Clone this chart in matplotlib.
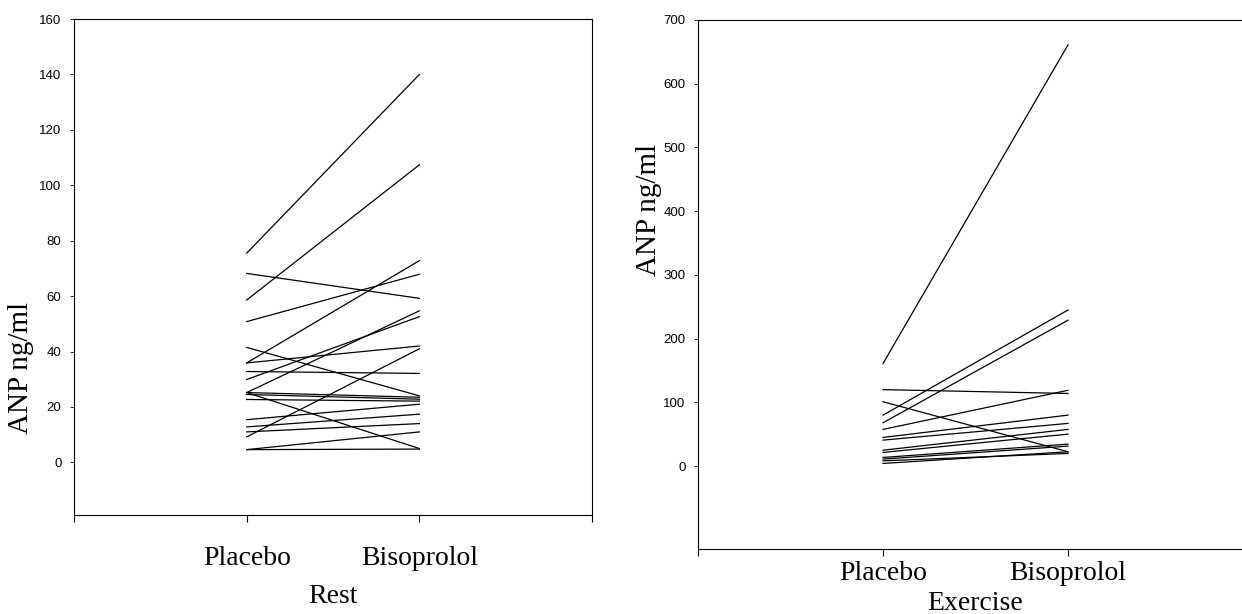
import matplotlib.pyplot as plt
from matplotlib import font_manager

# ANP values, one pair (placebo, bisoprolol) per patient
rest_placebo = [75.5, 58.6, 68.2, 50.8, 35.9, 41.5, 35.9, 32.8, 29.9, 25.2,
                25.2, 25.2, 24.5, 22.7, 15.4, 12.8, 11.0, 9.2, 4.6, 4.6]
rest_bisoprolol = [140.0, 107.4, 59.2, 67.9, 72.8, 24.0, 42.0, 32.1, 52.6, 54.7,
                   5.0, 23.5, 22.8, 22.1, 21.0, 17.4, 14.0, 41.0, 4.8, 11.0]

ex_placebo = [161, 120, 101, 80, 68, 57.6, 45, 40.8, 25, 21.5, 13.6, 11, 8.3, 4.2]
ex_bisoprolol = [661, 114, 22.5, 245, 229, 119, 80, 67, 57.6, 50.2, 34.5, 31.4, 19.9, 22.5]

categories = ["Placebo", "Bisoprolol"]
rest_yticks = [0, 20, 40, 60, 80, 100, 120, 140, 160]
ex_yticks = [0, 100, 200, 300, 400, 500, 600, 700]

names = {f.name for f in font_manager.fontManager.ttflist}
tick_font = "Liberation Sans Narrow" if "Liberation Sans Narrow" in names else "Liberation Sans"
serif = "Liberation Serif"

fig = plt.figure(figsize=(12.42, 6.14), dpi=100)
ax1 = fig.add_axes([0.0596, 0.1612, 0.4171, 0.8078])
ax2 = fig.add_axes([0.562, 0.1059, 0.4469, 0.8616])


def draw(ax, before, after, ylim, yticks, xlabel, tickpad, labelpad):
    for a, b in zip(before, after):
        ax.plot([1, 2], [a, b], color="black", lw=0.9)
    ax.set_xlim(0, 3)
    ax.set_ylim(*ylim)
    ax.set_xticks([0, 1, 2, 3])
    ax.set_xticklabels([""] + categories + [""], fontfamily=serif, fontsize=20)
    ax.set_yticks(yticks)
    ax.set_yticklabels([str(t) for t in yticks], fontfamily=tick_font, fontsize=9.5)
    ax.tick_params(axis="x", direction="out", length=5, width=0.8, pad=tickpad)
    ax.tick_params(axis="y", direction="out", length=3, width=0.6, pad=6)
    ax.set_xlabel(xlabel, fontfamily=serif, fontsize=20, labelpad=labelpad)
    ax.set_ylabel("ANP ng/ml", fontfamily=serif, fontsize=21)
    for s in ax.spines.values():
        s.set_linewidth(0.8)


draw(ax1, rest_placebo, rest_bisoprolol, (-19, 160), rest_yticks, "Rest", 17, 10)
draw(ax2, ex_placebo, ex_bisoprolol, (-130, 700), ex_yticks, "Exercise", 4, 3)
ax1.yaxis.set_label_coords(-0.077, 0.296)
ax2.yaxis.set_label_coords(-0.064, 0.641)

fig.savefig("out.png", dpi=100, facecolor="white")
